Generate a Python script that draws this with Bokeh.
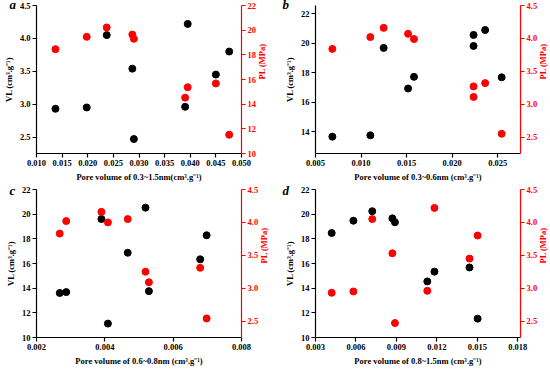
import math
from bokeh.plotting import figure
from bokeh.models import Range1d, LinearAxis, FixedTicker, PrintfTickFormatter
from bokeh.layouts import gridplot
from bokeh.embed import file_html
from bokeh.resources import INLINE

# ---- data ----
# Panel a
a_x = [0.0137, 0.0198, 0.0237, 0.0287, 0.0290, 0.0395, 0.0390, 0.0450, 0.0476]
a_vl = [2.93, 2.95, 4.05, 3.54, 2.47, 4.22, 2.96, 3.45, 3.80]
a_pl = [18.46, 19.46, 20.22, 19.64, 19.30, 15.37, 14.53, 15.68, 11.52]
# Panel b
b_x = [0.00685, 0.01102, 0.01248, 0.01516, 0.01581, 0.02235, 0.02235, 0.02362, 0.02543]
b_vl = [13.67, 13.76, 19.68, 16.93, 17.72, 20.56, 19.81, 20.89, 17.69]
b_pl = [3.84, 4.02, 4.16, 4.07, 3.99, 3.27, 3.11, 3.32, 2.55]
# Panel c
c_x = [0.00268, 0.00287, 0.00390, 0.00409, 0.00467, 0.00519, 0.00529, 0.00679, 0.00698]
c_vl = [13.61, 13.68, 19.61, 11.13, 16.87, 20.53, 13.76, 16.34, 18.29]
c_pl = [3.83, 4.02, 4.16, 4.00, 4.05, 3.25, 3.09, 3.31, 2.54]
# Panel d
d_x = [0.00420, 0.00581, 0.00721, 0.00870, 0.00889, 0.01129, 0.01182, 0.01442, 0.01502]
d_vl = [18.47, 19.47, 20.24, 19.66, 19.34, 14.55, 15.34, 15.68, 11.53]
d_pl = [2.93, 2.95, 4.05, 3.53, 2.47, 2.96, 4.22, 3.45, 3.80]

# tick labels / axis texts
a_xticks = [0.010, 0.015, 0.020, 0.025, 0.030, 0.035, 0.040, 0.045, 0.050]
a_lticks = [2.5, 3.0, 3.5, 4.0, 4.5]
a_rticks = [10, 12, 14, 16, 18, 20, 22]
b_xticks = [0.005, 0.010, 0.015, 0.020, 0.025]
b_lticks = [14, 16, 18, 20, 22]
p_ticks = [2.5, 3.0, 3.5, 4.0, 4.5]
c_xticks = [0.002, 0.004, 0.006, 0.008]
v_ticks = [10, 12, 14, 16, 18, 20, 22]
d_xticks = [0.003, 0.006, 0.009, 0.012, 0.015, 0.018]

a_xlabel = "Pore volume of 0.3~1.5nm(cm³.g⁻¹)"
b_xlabel = "Pore volume of 0.3~0.6nm (cm³.g⁻¹)"
c_xlabel = "Pore volume of 0.6~0.8nm (cm³.g⁻¹)"
d_xlabel = "Pore volume of 0.8~1.5nm (cm³.g⁻¹)"
vl_label = "VL (cm³.g⁻¹)"
pl_label = "PL (MPa)"

FONT = "Liberation Serif"
RED = "#ff0000"
FW, FH = 205, 148


def style_axis(ax, color, fmt):
    ax.axis_line_color = color
    ax.axis_line_width = 1.2
    ax.major_tick_line_color = color
    ax.major_tick_line_width = 1.2
    ax.major_tick_out = 4
    ax.major_tick_in = 0
    ax.minor_tick_line_color = None
    ax.major_label_text_color = color
    ax.major_label_text_font = FONT
    ax.major_label_text_font_style = "bold"
    ax.major_label_text_font_size = "8.5px"
    ax.major_label_standoff = 2
    ax.axis_label_text_color = color
    ax.axis_label_text_font = FONT
    ax.axis_label_text_font_style = "bold"
    ax.axis_label_text_font_size = "8.5px"
    ax.axis_label_standoff = 3
    ax.formatter = PrintfTickFormatter(format=fmt)


def panel(letter, xs, vl, pl, xr, lr, rr, xt, lt, rt, xfmt, lfmt, rfmt, xlabel,
          bl, br, bt, bb, lx, so):
    p = figure(frame_width=FW, frame_height=FH, output_backend="svg",
               toolbar_location=None, x_range=Range1d(*xr), y_range=Range1d(*lr),
               min_border_left=bl, min_border_right=br, min_border_top=bt,
               min_border_bottom=bb, title=letter)
    p.title.text_font = FONT
    p.title.text_font_style = "bold italic"
    p.title.text_font_size = "13px"
    p.title.text_color = "black"
    p.title.align = "left"
    p.title.offset = lx
    p.title.standoff = so
    p.outline_line_color = None
    p.grid.visible = False
    p.background_fill_color = "white"
    p.extra_y_ranges = {"right": Range1d(*rr)}
    rax = LinearAxis(y_range_name="right", axis_label=pl_label)
    p.add_layout(rax, "right")
    style_axis(p.xaxis[0], "black", xfmt)
    style_axis(p.yaxis[0], "black", lfmt)
    style_axis(rax, RED, rfmt)
    p.xaxis[0].ticker = FixedTicker(ticks=xt)
    p.yaxis[0].ticker = FixedTicker(ticks=lt)
    rax.ticker = FixedTicker(ticks=rt)
    p.xaxis[0].axis_label = xlabel
    p.yaxis[0].axis_label = vl_label
    rax.axis_label_orientation = math.pi / 2
    p.scatter(xs, vl, size=7, color="black")
    p.scatter(xs, pl, size=7, color=RED, y_range_name="right")
    return p


pa = panel("a", a_x, a_vl, a_pl, (0.010, 0.050), (2.25, 4.5), (10, 22),
           a_xticks, a_lticks, a_rticks, "%.3f", "%.1f", "%d", a_xlabel,
           27, 40, 4, 30, -27, -12)
pb = panel("b", b_x, b_vl, b_pl, (0.005, 0.0275), (12.53, 22.55), (2.25, 4.5),
           b_xticks, b_lticks, p_ticks, "%.3f", "%d", "%.1f", b_xlabel,
           34, 30, 4, 30, -33, -12)
pc = panel("c", c_x, c_vl, c_pl, (0.002, 0.008), (10, 22), (2.25, 4.5),
           c_xticks, v_ticks, p_ticks, "%.3f", "%d", "%.1f", c_xlabel,
           27, 40, 5, 30, -27, -17)
pd_ = panel("d", d_x, d_vl, d_pl, (0.003, 0.0182), (10, 22), (2.25, 4.5),
            d_xticks, v_ticks, p_ticks, "%.3f", "%d", "%.1f", d_xlabel,
            34, 30, 5, 30, -33, -17)

grid = gridplot([[pa, pb], [pc, pd_]], toolbar_location=None)
open("out.html", "w").write(file_html(grid, INLINE))
